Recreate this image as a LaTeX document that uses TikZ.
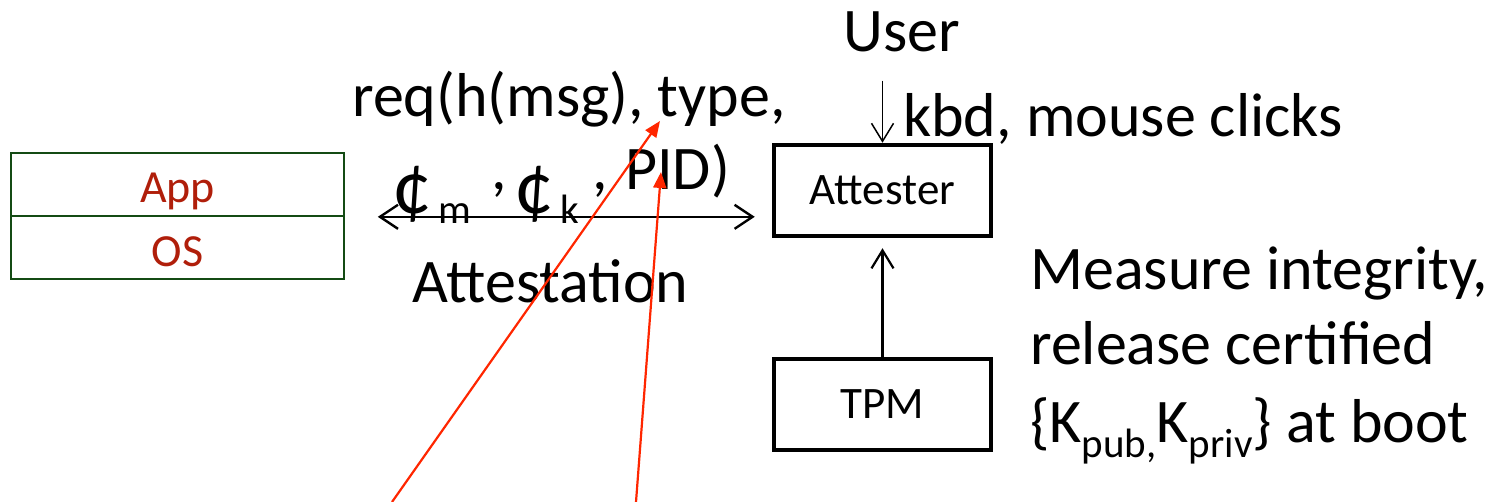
\documentclass[tikz,border=0pt]{standalone}
\usepackage{fontspec}
\setmainfont{Carlito}
\usetikzlibrary{arrows.meta}
\definecolor{boxgreen}{RGB}{20,75,20}
\definecolor{txtred}{RGB}{176,30,10}
\definecolor{linered}{RGB}{255,38,0}
\begin{document}
\begin{tikzpicture}[x=1pt,y=-1pt,
  bigtxt/.style={font=\fontsize{62}{74}\selectfont, inner sep=0pt, anchor=base west},
  subtxt/.style={font=\fontsize{41}{48}\selectfont, inner sep=0pt, anchor=base west},
  centtxt/.style={font=\fontsize{80}{90}\selectfont, inner sep=0pt, anchor=base west},
  stackbox/.style={draw=boxgreen, line width=1.6pt, minimum width=333pt, minimum height=63pt, inner sep=0pt},
  stacklbl/.style={text=txtred, inner sep=0pt, anchor=base, font=\fontsize{46}{54}\selectfont},
  compbox/.style={draw=black, line width=4.5pt, minimum width=217pt, minimum height=91pt, inner sep=0pt, font=\fontsize{45}{54}\selectfont},
  barb/.style={line width=2.4pt, {Straight Barb[length=18pt,width=24pt]}-{Straight Barb[length=18pt,width=24pt]}},
  onebarb/.style={-{Straight Barb[length=18pt,width=22pt]}},
  redarr/.style={draw=linered, line width=2.2pt, -{Triangle[length=16pt,width=13pt]}}
]
\useasboundingbox (0,0) rectangle (1499,502);

% App / OS stack
\node[stackbox] (app) at (177.5,184.5) {};
\node[stackbox] (os) at (177.5,247.5) {};
\node[stacklbl] (applbl) at ([yshift=-18.5pt]app.center) {App};
\node[stacklbl] (oslbl) at ([yshift=-19.5pt]os.center) {OS};

% Attester and TPM
\node[compbox] (att) at (882.5,190.5) {Attester};
\node[compbox] (tpm) at (882.5,404.5) {TPM};

% User input
\node[bigtxt] (user) at (843,52) {User};
\node[bigtxt] (kbd) at (903,137) {kbd, mouse clicks};
\draw[line width=1.5pt, onebarb, shorten <=28pt] (user.south -| att.north) -- (att.north);

% TPM -> Attester
\draw[line width=2.2pt, onebarb, shorten >=10pt] (tpm.north) -- (att.south);

% Attestation message
\node[bigtxt] (req) at (352,117) {req(h(msg), type,};
\node[centtxt] (c1) at (392,214) {¢};
\node[subtxt] (m) at (438,224) {m};
\node[bigtxt] (cm1) at (491,190) {,};
\node[centtxt] (c2) at (514,214) {¢};
\node[subtxt] (k) at (560,224) {k};
\node[bigtxt] (cm2) at (592,190) {,};
\node[bigtxt] (pid) at (625,190) {PID)};
\node[bigtxt] (attn) at (412,303) {Attestation};
\draw[barb, shorten <=33pt, shorten >=17pt] (app.south east) -- (app.south east -| att.west);

% Right description
\node[bigtxt] (meas1) at (1030,290) {Measure integrity,};
\node[bigtxt] (meas2) at (1030,365) {release certified};
\node[bigtxt] (meas3) at (1030,442) {\{K\raisebox{-15pt}{\fontsize{41}{48}\selectfont pub,}K\raisebox{-15pt}{\fontsize{41}{48}\selectfont priv}\} at boot};

% Red pointers
\coordinate (r1s) at (392,502);
\coordinate (r1e) at (660,121);
\coordinate (r2s) at (636,502);
\coordinate (r2e) at (661,172);
\draw[redarr] (r1s) -- (r1e);
\draw[redarr] (r2s) -- (r2e);
\end{tikzpicture}
\end{document}
